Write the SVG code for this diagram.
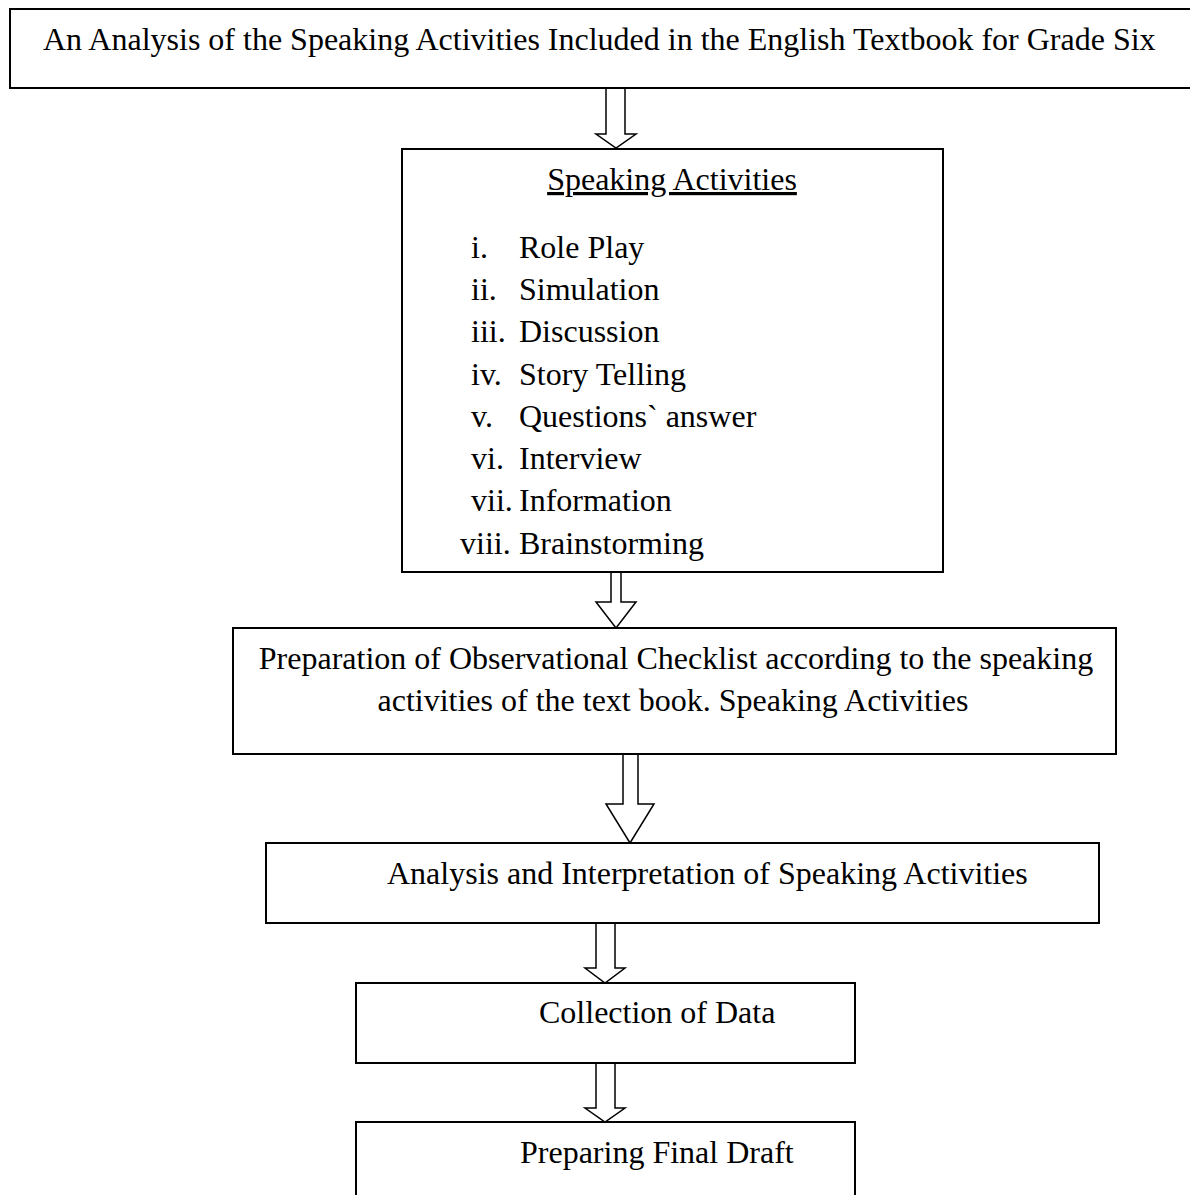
<svg xmlns="http://www.w3.org/2000/svg" width="1190" height="1195" viewBox="0 0 1190 1195">
<style>
.box{fill:#fff;stroke:#000;stroke-width:2}
.arr{fill:#fff;stroke:#000;stroke-width:1.5;stroke-linejoin:miter}
text{font-family:"Liberation Serif","Times New Roman",serif;font-size:32px;fill:#000}
.c{text-anchor:middle}
</style>
<rect x="0" y="0" width="1190" height="1195" fill="#fff"/>
<g id="connectors">
<polygon class="arr" points="606,88 625,88 625,134 636,134 616,148 596,134 606,134"/>
<polygon class="arr" points="611,572 621,572 621,602 636,602 616,628 596,602 611,602"/>
<polygon class="arr" points="623,754 638,754 638,804 654,804 630,843 606,804 623,804"/>
<polygon class="arr" points="596,923 615,923 615,968 625,968 605,983 585,968 596,968"/>
<polygon class="arr" points="596,1063 615,1063 615,1108 625,1108 605,1122 585,1108 596,1108"/>
</g>
<g id="node-title">
<rect class="box" x="10" y="9" width="1190" height="79"/>
<text x="43" y="50">An Analysis of the Speaking Activities Included in the English Textbook for Grade Six</text>
</g>
<g id="node-speaking">
<rect class="box" x="402" y="149" width="541" height="423"/>
<text class="c" x="672" y="190" text-decoration="underline">Speaking Activities</text>
<text x="471" y="258">i.</text><text x="519" y="258">Role Play</text>
<text x="471" y="300">ii.</text><text x="519" y="300">Simulation</text>
<text x="471" y="342">iii.</text><text x="519" y="342">Discussion</text>
<text x="471" y="385">iv.</text><text x="519" y="385">Story Telling</text>
<text x="471" y="427">v.</text><text x="519" y="427">Questions` answer</text>
<text x="471" y="469">vi.</text><text x="519" y="469">Interview</text>
<text x="471" y="511">vii.</text><text x="519" y="511">Information</text>
<text x="460" y="554">viii.</text><text x="519" y="554">Brainstorming</text>
</g>
<g id="node-checklist">
<rect class="box" x="233" y="628" width="883" height="126"/>
<text class="c" x="676" y="669">Preparation of Observational Checklist according to the speaking</text>
<text class="c" x="673" y="711">activities of the text book. Speaking Activities</text>
</g>
<g id="node-analysis">
<rect class="box" x="266" y="843" width="833" height="80"/>
<text x="387" y="884">Analysis and Interpretation of Speaking Activities</text>
</g>
<g id="node-collection">
<rect class="box" x="356" y="983" width="499" height="80"/>
<text x="539" y="1023">Collection of Data</text>
</g>
<g id="node-final">
<rect class="box" x="356" y="1122" width="499" height="100"/>
<text x="520" y="1163">Preparing Final Draft</text>
</g>
</svg>
